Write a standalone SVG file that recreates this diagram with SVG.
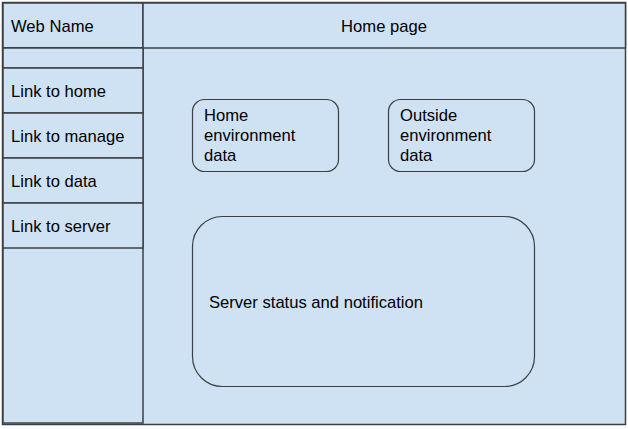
<svg xmlns="http://www.w3.org/2000/svg" width="628" height="429" viewBox="0 0 628 429">
<style>
.box{fill:#cfe2f3;stroke:#3c4043;stroke-width:1.5}
.rbox{fill:#cfe2f3;stroke:#3c4043;stroke-width:1.2}
.t{font-family:"Liberation Sans",Arial,sans-serif;font-size:16.6px;fill:#000}
</style>
<rect width="628" height="429" fill="#ffffff"/>
<g id="page"><rect class="box" x="2.5" y="2.5" width="623" height="422" stroke="#202124" stroke-width="2"/></g>
<g id="header-name"><rect class="box" x="3" y="3" width="140" height="45"/><text class="t" x="11" y="32">Web Name</text></g>
<g id="header-title"><rect class="box" x="143" y="3" width="482.5" height="45"/><text class="t" x="384" y="32" text-anchor="middle">Home page</text></g>
<g id="sidebar"><rect class="box" x="3" y="48" width="140" height="375"/></g>
<g id="spacer"><rect class="box" x="3" y="48" width="140" height="20"/></g>
<g id="link-home"><rect class="box" x="3" y="68" width="140" height="45"/><text class="t" x="11" y="97">Link to home</text></g>
<g id="link-manage"><rect class="box" x="3" y="113" width="140" height="45"/><text class="t" x="11" y="142">Link to manage</text></g>
<g id="link-data"><rect class="box" x="3" y="158" width="140" height="45"/><text class="t" x="11" y="187">Link to data</text></g>
<g id="link-server"><rect class="box" x="3" y="203" width="140" height="45"/><text class="t" x="11" y="232">Link to server</text></g>
<g id="home-env"><rect class="rbox" x="192.5" y="99.5" width="146" height="72" rx="12"/><text class="t" x="204" y="121">Home</text><text class="t" x="204" y="141">environment</text><text class="t" x="204" y="161">data</text></g>
<g id="outside-env"><rect class="rbox" x="388.5" y="99.5" width="146" height="72" rx="12"/><text class="t" x="400" y="121">Outside</text><text class="t" x="400" y="141">environment</text><text class="t" x="400" y="161">data</text></g>
<g id="server-status"><rect class="rbox" x="192.5" y="216.5" width="342" height="170" rx="30"/><text class="t" x="209" y="308">Server status and notification</text></g>
<g id="connectors"></g>
</svg>
